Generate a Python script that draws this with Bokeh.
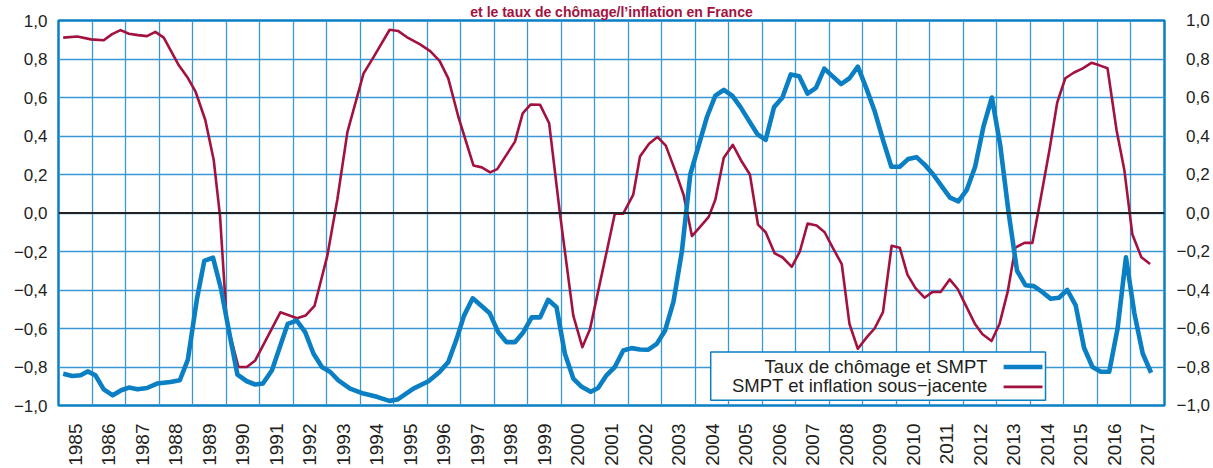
import math
from bokeh.plotting import figure
from bokeh.models import Range1d, FixedTicker, LinearAxis, Span, BoxAnnotation, Label, Arrow
from bokeh.embed import file_html
from bokeh.resources import INLINE

# ---------------- data ----------------
chomage_x = [1985.14, 1985.41, 1985.66, 1985.87, 1986.10, 1986.35, 1986.62, 1986.87, 1987.10, 1987.36,
             1987.64, 1987.94, 1988.34, 1988.62, 1988.86, 1989.13, 1989.35, 1989.61, 1989.85, 1990.13,
             1990.34, 1990.62, 1990.87, 1991.10, 1991.37, 1991.62, 1991.84, 1992.11, 1992.36, 1992.61,
             1992.86, 1993.11, 1993.35, 1993.70, 1994.10, 1994.50, 1994.87, 1995.11, 1995.59, 1996.04,
             1996.37, 1996.63, 1996.88, 1997.10, 1997.36, 1997.86, 1998.12, 1998.37, 1998.62, 1998.87,
             1999.12, 1999.37, 1999.61, 1999.86, 2000.11, 2000.36, 2000.61, 2000.88, 2001.10, 2001.35,
             2001.60, 2001.85, 2002.10, 2002.35, 2002.60, 2002.85, 2003.10, 2003.35, 2003.60, 2003.85,
             2004.10, 2004.35, 2004.60, 2004.85, 2005.10, 2005.35, 2005.60, 2005.85, 2006.10, 2006.35,
             2006.60, 2006.85, 2007.10, 2007.35, 2007.60, 2007.85, 2008.10, 2008.35, 2008.60, 2008.85,
             2009.10, 2009.35, 2009.60, 2009.85, 2010.10, 2010.35, 2010.60, 2010.85, 2011.10, 2011.35,
             2011.60, 2011.85, 2012.10, 2012.35, 2012.60, 2012.85, 2013.10, 2013.35, 2013.60, 2013.85,
             2014.10, 2014.35, 2014.60, 2014.85, 2015.10, 2015.35, 2015.60, 2015.85, 2016.10, 2016.35,
             2016.60, 2016.85, 2017.10, 2017.35, 2017.60]
chomage_v = [-0.835, -0.847, -0.843, -0.823, -0.843, -0.916, -0.947, -0.921, -0.907, -0.916,
             -0.909, -0.886, -0.878, -0.869, -0.762, -0.447, -0.249, -0.232, -0.395, -0.654,
             -0.840, -0.874, -0.891, -0.886, -0.817, -0.688, -0.576, -0.559, -0.619, -0.731,
             -0.800, -0.826, -0.869, -0.912, -0.938, -0.955, -0.976, -0.969, -0.912, -0.874,
             -0.826, -0.774, -0.654, -0.533, -0.443, -0.519, -0.619, -0.671, -0.671, -0.619,
             -0.542, -0.542, -0.451, -0.490, -0.731, -0.860, -0.903, -0.929, -0.909, -0.843,
             -0.800, -0.714, -0.702, -0.709, -0.710, -0.680, -0.610, -0.460, -0.200, 0.200,
             0.350, 0.500, 0.610, 0.640, 0.610, 0.550, 0.480, 0.410, 0.380, 0.550,
             0.600, 0.720, 0.710, 0.620, 0.650, 0.750, 0.710, 0.670, 0.700, 0.760,
             0.650, 0.530, 0.380, 0.240, 0.240, 0.280, 0.290, 0.250, 0.200, 0.140,
             0.080, 0.060, 0.120, 0.240, 0.450, 0.600, 0.350, 0.000, -0.300, -0.375,
             -0.380, -0.410, -0.445, -0.440, -0.400, -0.480, -0.700, -0.800, -0.825, -0.825,
             -0.600, -0.230, -0.520, -0.730, -0.830]

inflation_x = [1985.14, 1985.56, 1985.97, 1986.35, 1986.60, 1986.85, 1987.10, 1987.37, 1987.64, 1987.89,
               1988.14, 1988.59, 1988.84, 1989.09, 1989.38, 1989.63, 1989.82, 1990.02, 1990.37, 1990.62,
               1990.87, 1991.62, 1992.12, 1992.37, 1992.64, 1993.02, 1993.32, 1993.62, 1994.10, 1994.40,
               1994.88, 1995.14, 1995.39, 1995.79, 1996.09, 1996.37, 1996.63, 1996.93, 1997.38, 1997.63,
               1997.88, 1998.09, 1998.62, 1998.85, 1999.09, 1999.37, 1999.64, 1999.96, 2000.36, 2000.63,
               2000.86, 2001.35, 2001.60, 2001.85, 2002.15, 2002.35, 2002.62, 2002.87, 2003.12, 2003.40,
               2003.65, 2003.90, 2004.13, 2004.40, 2004.60, 2004.85, 2005.12, 2005.39, 2005.63, 2005.87,
               2006.10, 2006.37, 2006.60, 2006.88, 2007.12, 2007.35, 2007.62, 2007.86, 2008.10, 2008.37,
               2008.60, 2008.85, 2009.12, 2009.35, 2009.60, 2009.86, 2010.10, 2010.33, 2010.57, 2010.84,
               2011.08, 2011.32, 2011.59, 2011.83, 2012.07, 2012.34, 2012.57, 2012.84, 2013.08, 2013.32,
               2013.55, 2013.82, 2014.06, 2014.30, 2014.57, 2014.80, 2015.04, 2015.30, 2015.55, 2015.82,
               2016.06, 2016.30, 2016.57, 2016.80, 2017.04, 2017.31, 2017.57]
inflation_v = [0.911, 0.917, 0.902, 0.897, 0.929, 0.950, 0.931, 0.924, 0.919, 0.941,
               0.911, 0.767, 0.707, 0.630, 0.483, 0.277, -0.016, -0.567, -0.800, -0.800,
               -0.766, -0.516, -0.547, -0.533, -0.482, -0.223, 0.070, 0.420, 0.724, 0.810,
               0.952, 0.945, 0.914, 0.876, 0.841, 0.790, 0.699, 0.500, 0.247, 0.237,
               0.211, 0.228, 0.371, 0.518, 0.564, 0.562, 0.466, 0.000, -0.533, -0.697,
               -0.602, -0.206, -0.003, -0.003, 0.096, 0.294, 0.360, 0.395, 0.350, 0.220,
               0.095, -0.120, -0.075, -0.020, 0.070, 0.287, 0.354, 0.266, 0.200, -0.060,
               -0.100, -0.210, -0.230, -0.280, -0.200, -0.055, -0.065, -0.100, -0.180, -0.265,
               -0.576, -0.705, -0.645, -0.600, -0.515, -0.170, -0.180, -0.320, -0.390, -0.440,
               -0.410, -0.410, -0.345, -0.395, -0.480, -0.575, -0.630, -0.665, -0.575, -0.410,
               -0.180, -0.155, -0.155, 0.070, 0.330, 0.575, 0.700, 0.730, 0.750, 0.780,
               0.767, 0.752, 0.430, 0.225, -0.110, -0.230, -0.265]

year_labels = [str(y) for y in range(1985, 2018)]
y_ticks = [-1.0, -0.8, -0.6, -0.4, -0.2, 0.0, 0.2, 0.4, 0.6, 0.8, 1.0]
y_tick_labels = ["\u22121,0", "\u22120,8", "\u22120,6", "\u22120,4", "\u22120,2", "0,0",
                 "0,2", "0,4", "0,6", "0,8", "1,0"]
series_names = ["Taux de ch\u00f4mage et SMPT", "SMPT et inflation sous\u2212jacente"]
title_text = "et le taux de ch\u00f4mage/l\u2019inflation en France"

# ---------------- style ----------------
BLUE = "#0a7fc3"
RED = "#a3123f"
GRID = "#3b97d3"
TXT = "#231f20"
FONT = "Liberation Sans"

p = figure(width=1213, height=468,
           x_range=Range1d(1985, 2018), y_range=Range1d(-1, 1),
           output_backend="svg", toolbar_location=None,
           min_border_left=58, min_border_right=48, min_border_top=20, min_border_bottom=61)

# title kept whole in the band above the frame
p.title.text = title_text
p.title.text_font = FONT
p.title.text_font_size = "14px"
p.title.text_font_style = "bold"
p.title.text_color = RED
p.title.align = "center"
p.title.offset = 0
p.title.standoff = 2

p.outline_line_color = BLUE
p.outline_line_width = 2.5
p.background_fill_color = "white"

# x axis: labels centred on years
tick_pos = [int(y) + 0.5 for y in year_labels]
xa = p.xaxis[0]
xa.ticker = FixedTicker(ticks=tick_pos)
xa.major_label_overrides = {t: lab for t, lab in zip(tick_pos, year_labels)}
xa.major_label_orientation = math.pi / 2
xa.axis_line_color = None
xa.major_tick_line_color = None
xa.minor_tick_line_color = None
xa.major_tick_out = 0
xa.major_tick_in = 0
xa.minor_tick_out = 0
xa.major_label_text_font = FONT
xa.major_label_text_font_size = "19px"
xa.major_label_text_color = TXT
xa.major_label_standoff = 18

ya = p.yaxis[0]
ya.ticker = FixedTicker(ticks=y_ticks)
ya.major_label_overrides = {t: lab for t, lab in zip(y_ticks, y_tick_labels)}
ya.axis_line_color = None
ya.major_tick_line_color = None
ya.minor_tick_line_color = None
ya.major_tick_out = 0
ya.major_tick_in = 0
ya.minor_tick_out = 0
ya.major_label_text_font = FONT
ya.major_label_text_font_size = "17px"
ya.major_label_text_color = TXT
ya.major_label_standoff = 11

right_labels = [lab if lab.startswith("\u2212") else "\u2007" + lab for lab in y_tick_labels]
ra = LinearAxis(ticker=FixedTicker(ticks=y_ticks),
                major_label_overrides={t: lab for t, lab in zip(y_ticks, right_labels)})
ra.axis_line_color = None
ra.major_tick_line_color = None
ra.minor_tick_line_color = None
ra.major_tick_out = 0
ra.major_tick_in = 0
ra.minor_tick_out = 0
ra.major_label_text_font = FONT
ra.major_label_text_font_size = "17px"
ra.major_label_text_color = TXT
ra.major_label_standoff = 12
p.add_layout(ra, "right")

p.xgrid.ticker = FixedTicker(ticks=list(range(1986, 2018)))
p.ygrid.ticker = FixedTicker(ticks=[t for t in y_ticks if abs(t) < 1])
for g in (p.xgrid[0], p.ygrid[0]):
    g.grid_line_color = GRID
    g.grid_line_width = 1.3
    g.grid_line_alpha = 1.0

p.add_layout(Span(location=0, dimension="width", line_color="#222222", line_width=1.8))

p.line(inflation_x, inflation_v, line_color=RED, line_width=2.6, line_join="round")
p.line(chomage_x, chomage_v, line_color=BLUE, line_width=4.6, line_join="round")

# legend (text right, sample line on the right)
p.add_layout(BoxAnnotation(left=2004.46, right=2014.45, top=-0.7225, bottom=-0.9726,
                           fill_color="white", fill_alpha=1.0,
                           line_color=BLUE, line_width=1.5, line_alpha=1.0))
for name, yy, col, w in [(series_names[0], -0.795, BLUE, 4.6), (series_names[1], -0.898, RED, 2.6)]:
    p.add_layout(Label(x=2012.72, y=yy, text=name, text_align="right", text_baseline="middle",
                       text_font=FONT, text_font_size="18.5px", text_color=TXT))
    p.add_layout(Arrow(x_start=2013.2, x_end=2014.36, y_start=yy - 0.005, y_end=yy - 0.005,
                       end=None, line_color=col, line_width=w))

open("out.html", "w").write(file_html(p, INLINE))
